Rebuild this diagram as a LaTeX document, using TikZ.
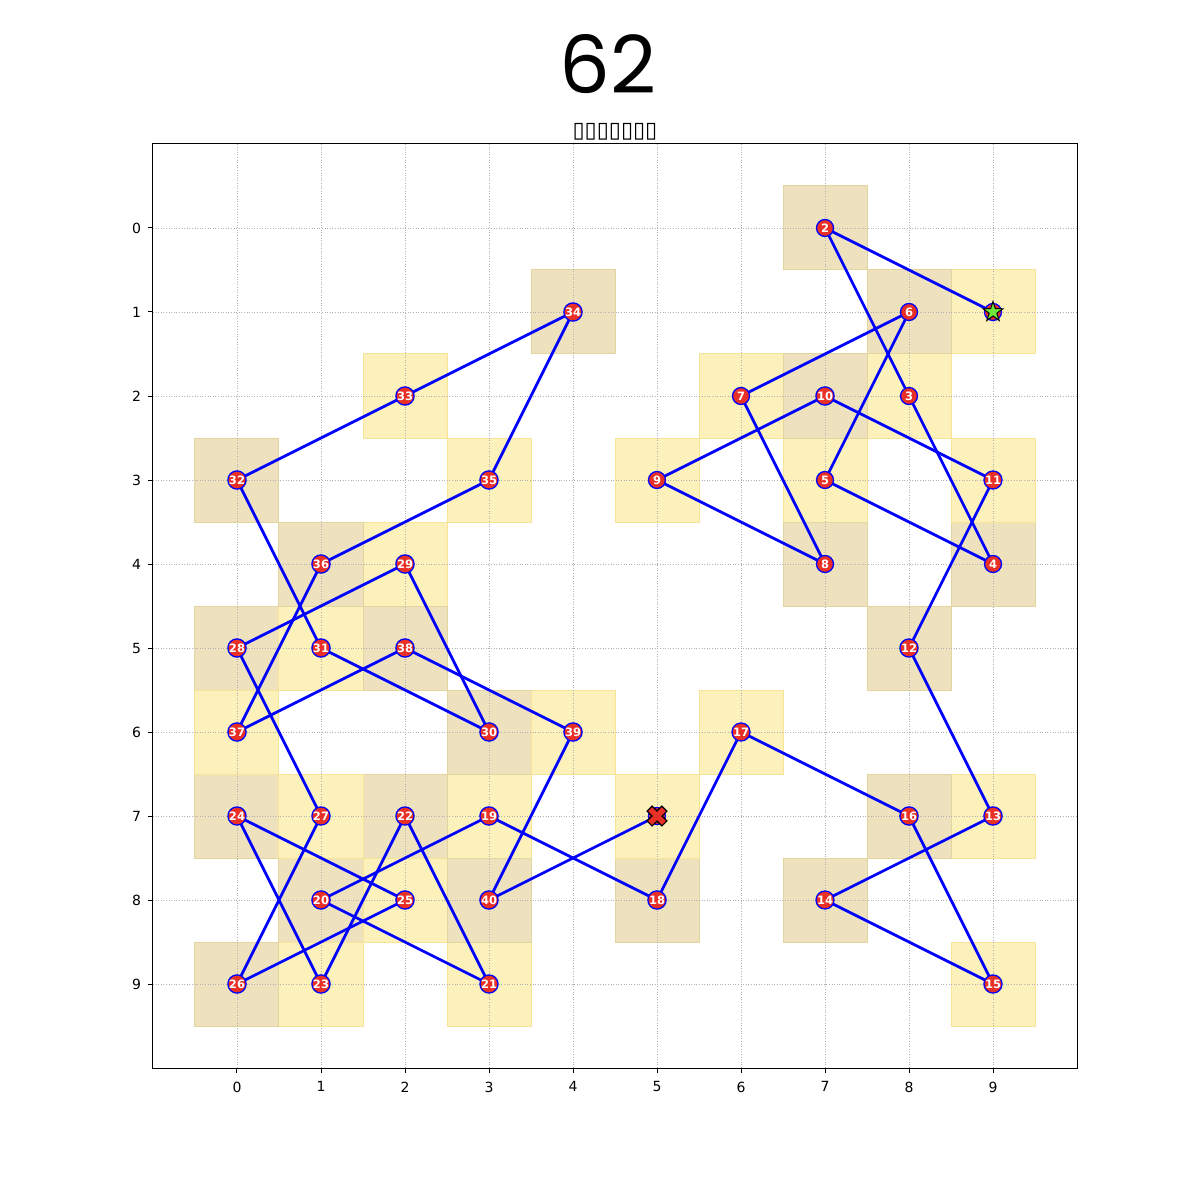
\documentclass[tikz,border=0pt]{standalone}
\usepackage{fontspec}
\setmainfont{DejaVu Sans}
\newfontfamily\titlefont{Poppins}
\usetikzlibrary{shapes.geometric}
\definecolor{tancell}{RGB}{238,226,190}
\definecolor{tanedge}{RGB}{228,212,160}
\definecolor{yelcell}{RGB}{253,241,187}
\definecolor{yeledge}{RGB}{248,228,150}
\definecolor{dotred}{RGB}{232,48,38}
\definecolor{stargreen}{RGB}{110,232,60}
\definecolor{gridgray}{RGB}{176,176,176}
\tikzset{
  cellodd/.style={fill=tancell,draw=tanedge,line width=1pt},
  celleven/.style={fill=yelcell,draw=yeledge,line width=1pt},
  gridline/.style={gridgray,line width=0.8pt,dash pattern=on 1pt off 1.6pt},
  tourline/.style={blue,line width=2.7pt},
  dot/.style={circle,fill=dotred,draw=blue,line width=1.3pt,minimum size=17pt,inner sep=0pt,
    font=\fontsize{11.5}{11.5}\selectfont\bfseries,text=white},
  ticklab/.style={font=\fontsize{14}{14}\selectfont},
  tickmark/.style={black,line width=1pt}
}
\begin{document}
\begin{tikzpicture}[x=84pt,y=-84pt]
\useasboundingbox[fill=white] (-2.8214,-2.7143) rectangle (11.4643,11.5714);
% cells
\foreach \n/\c/\r in {1/9/1,2/7/0,3/8/2,4/9/4,5/7/3,6/8/1,7/6/2,8/7/4,9/5/3,10/7/2,
  11/9/3,12/8/5,13/9/7,14/7/8,15/9/9,16/8/7,17/6/6,18/5/8,19/3/7,20/1/8,
  21/3/9,22/2/7,23/1/9,24/0/7,25/2/8,26/0/9,27/1/7,28/0/5,29/2/4,30/3/6,
  31/1/5,32/0/3,33/2/2,34/4/1,35/3/3,36/1/4,37/0/6,38/2/5,39/4/6,40/3/8,41/5/7}{
  \pgfmathtruncatemacro{\cellpar}{mod(\c+\r,2)}
  \ifnum\cellpar=1
    \path[cellodd] (\c-0.5,\r-0.5) rectangle (\c+0.5,\r+0.5);
  \else
    \path[celleven] (\c-0.5,\r-0.5) rectangle (\c+0.5,\r+0.5);
  \fi
  \coordinate (p\n) at (\c,\r);
}
% grid
\foreach \i in {0,...,9}{
  \draw[gridline] (\i,-1) -- (\i,10);
  \draw[gridline] (-1,\i) -- (10,\i);
}
% frame, ticks, labels
\draw[black,line width=1pt] (-1,-1) rectangle (10,10);
\foreach \i in {0,...,9}{
  \draw[tickmark] (\i,10) -- (\i,10.06);
  \draw[tickmark] (-1,\i) -- (-1.06,\i);
  \node[ticklab,anchor=north] (xl\i) at (\i,10.12) {\i};
  \node[ticklab,anchor=east] (yl\i) at (-1.1,\i) {\i};
}
% tour
\foreach \a in {1,...,40}{
  \pgfmathtruncatemacro{\b}{\a+1}
  \draw[tourline] (p\a) -- (p\b);
}
% markers
\node[dot] (m1) at (p1) {};
\foreach \n in {2,...,40}{
  \node[dot] (m\n) at (p\n) {\n};
}
\node[dot] (m41) at (p41) {};
\node[star,star points=5,star point ratio=2.6,fill=stargreen,draw=black,line width=1pt,
  minimum size=21pt,inner sep=0pt] (startmark) at (p1) {};
\begin{scope}[shift={(p41)},x=1pt,y=1pt,rotate=45]
  \path[fill=dotred,draw=black,line width=1.2pt]
    (-3.6,10.5) -- (3.6,10.5) -- (3.6,3.6) -- (10.5,3.6) -- (10.5,-3.6) -- (3.6,-3.6)
    -- (3.6,-10.5) -- (-3.6,-10.5) -- (-3.6,-3.6) -- (-10.5,-3.6) -- (-10.5,3.6)
    -- (-3.6,3.6) -- cycle;
\end{scope}
% titles
\node[font=\titlefont\fontsize{80}{80}\selectfont,inner sep=0pt,anchor=base] (title) at (4.42,-1.6) {62};
\node[font=\fontsize{22}{22}\selectfont,anchor=base,inner sep=0pt] (subtitle) at (4.5,-1.08) {▯▯▯▯▯▯▯};
\end{tikzpicture}
\end{document}
